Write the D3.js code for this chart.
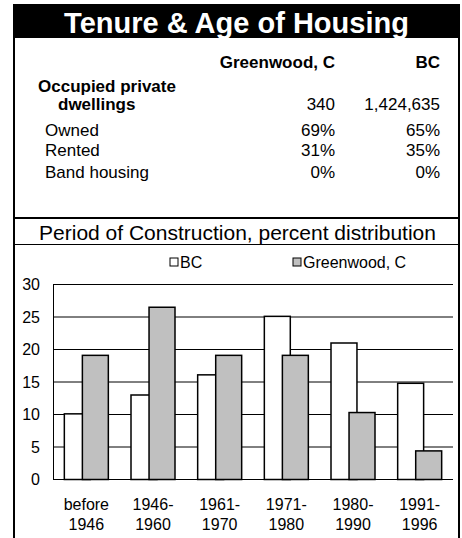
<!DOCTYPE html>
<html>
<head>
<meta charset="utf-8">
<script src="https://cdn.jsdelivr.net/npm/d3@7"></script>
<style>
  body { margin: 0; background: #fff; }
  svg { display: block; font-family: Arial, "Liberation Sans", sans-serif; }
</style>
</head>
<body>
<svg id="svg01" width="462" height="538"></svg>
<script>
// table data
const tableTitle = "Tenure & Age of Housing"
const tableCols = ["Greenwood, C", "BC"]
const dwellings = ["340", "1,424,635"]
const tableRows = ["Owned", "Rented", "Band housing"]
const greenwoodPct = ["69%", "31%", "0%"]
const bcPct = ["65%", "35%", "0%"]

// chart data
const chartTitle = "Period of Construction, percent distribution"
const periods = [["before", "1946"], ["1946-", "1960"], ["1961-", "1970"], ["1971-", "1980"], ["1980-", "1990"], ["1991-", "1996"]]
const series = ["BC", "Greenwood, C"]
const bcValues = [10.1, 13, 16.1, 25.1, 21, 14.8]
const greenwoodValues = [19.1, 26.5, 19.1, 19.1, 10.3, 4.4]
const yTicks = [0, 5, 10, 15, 20, 25, 30]

const svg = d3.select("#svg01")
const L = 14, R = 459

// title band
svg.append("rect")
    .attr("x", L - 1).attr("y", 4)
    .attr("width", R - L + 2).attr("height", 34)
    .attr("fill", "#000")
svg.append("text")
    .attr("x", (L + R) / 2).attr("y", 33)
    .attr("text-anchor", "middle")
    .attr("fill", "#fff")
    .attr("font-weight", "bold")
    .attr("font-size", 29)
    .text(tableTitle)

// frame lines
const frame = svg.append("g").attr("stroke", "#000")
frame.append("line").attr("x1", L).attr("x2", L).attr("y1", 38).attr("y2", 538).attr("stroke-width", 2)
frame.append("line").attr("x1", R).attr("x2", R).attr("y1", 38).attr("y2", 538).attr("stroke-width", 2)
frame.append("line").attr("x1", L).attr("x2", R).attr("y1", 218).attr("y2", 218).attr("stroke-width", 2)
frame.append("line").attr("x1", L).attr("x2", R).attr("y1", 244.5).attr("y2", 244.5).attr("stroke-width", 1)

// table
const colRight = [335, 440]
const tbl = svg.append("g").attr("font-size", 17).attr("fill", "#000")
tableCols.forEach((c, i) => {
  tbl.append("text").attr("x", colRight[i]).attr("y", 68)
     .attr("text-anchor", "end").attr("font-weight", "bold").text(c)
})
tbl.append("text").attr("x", 38).attr("y", 92).attr("font-weight", "bold").text("Occupied private")
tbl.append("text").attr("x", 58).attr("y", 110).attr("font-weight", "bold").text("dwellings")
dwellings.forEach((d, i) => {
  tbl.append("text").attr("x", colRight[i]).attr("y", 110).attr("text-anchor", "end").text(d)
})
const rowY = [136, 156, 178]
tableRows.forEach((r, i) => {
  tbl.append("text").attr("x", 45).attr("y", rowY[i]).text(r)
  tbl.append("text").attr("x", colRight[0]).attr("y", rowY[i]).attr("text-anchor", "end").text(greenwoodPct[i])
  tbl.append("text").attr("x", colRight[1]).attr("y", rowY[i]).attr("text-anchor", "end").text(bcPct[i])
})

// chart title
svg.append("text")
    .attr("x", (L + R) / 2 + 1).attr("y", 240)
    .attr("text-anchor", "middle")
    .attr("font-size", 21)
    .text(chartTitle)

// chart
margin = {top: 284.5, right: 453, bottom: 479.5, left: 53}

x = d3.scaleBand()
    .domain(periods.map(p => p.join(" ")))
    .range([margin.left, margin.right])
    .paddingInner(0.34)
    .paddingOuter(0.17)

y = d3.scaleLinear()
    .domain([0, 30])
    .range([margin.bottom, margin.top])

const g_ = svg.append("g")

// gridlines
g_.append("g")
  .selectAll("line")
  .data(yTicks.filter(t => t > 0))
  .join("line")
    .attr("x1", margin.left).attr("x2", margin.right)
    .attr("y1", d => y(d)).attr("y2", d => y(d))
    .attr("stroke", "#000").attr("stroke-width", 1)

// y axis
const yAxis = g => g
    .attr("transform", `translate(${margin.left},0)`)
    .call(d3.axisLeft(y).tickValues(yTicks).tickSize(0).tickPadding(13))
    .call(g => g.select(".domain").attr("stroke", "#000").attr("stroke-width", 1))
    .call(g => g.selectAll("text").attr("font-size", 16).attr("fill", "#000")
                .attr("font-family", "Arial, 'Liberation Sans', sans-serif"))
g_.append("g").call(yAxis)

// bars
const bw = x.bandwidth()
const barW = bw * 0.59
const rows = periods.map((p, i) => ({key: p.join(" "), values: [bcValues[i], greenwoodValues[i]]}))
const fills = ["#fff", "#c0c0c0"]
series.forEach((s, si) => {
  g_.append("g")
    .selectAll("rect")
    .data(rows)
    .join("rect")
      .attr("x", d => x(d.key) + (si === 0 ? 0 : bw - barW))
      .attr("y", d => y(d.values[si]))
      .attr("width", barW)
      .attr("height", d => y(0) - y(d.values[si]))
      .attr("fill", fills[si])
      .attr("stroke", "#000")
      .attr("stroke-width", 1.5)
})

// x axis line
g_.append("line")
    .attr("x1", margin.left).attr("x2", margin.right)
    .attr("y1", y(0)).attr("y2", y(0))
    .attr("stroke", "#000").attr("stroke-width", 1)

// x labels
const xl = g_.append("g").attr("font-size", 16).attr("text-anchor", "middle")
periods.forEach(p => {
  const cx = x(p.join(" ")) + bw / 2
  xl.append("text").attr("x", cx).attr("y", 510).text(p[0])
  xl.append("text").attr("x", cx).attr("y", 530).text(p[1])
})

// legend
const legendX = [170, 293]
const lg = svg.append("g").attr("font-size", 16)
series.forEach((s, i) => {
  lg.append("rect")
    .attr("x", legendX[i]).attr("y", 258)
    .attr("width", 8).attr("height", 8)
    .attr("fill", fills[i]).attr("stroke", "#000").attr("stroke-width", 1)
  lg.append("text").attr("x", legendX[i] + 10).attr("y", 268).text(s)
})
</script>
</body>
</html>
